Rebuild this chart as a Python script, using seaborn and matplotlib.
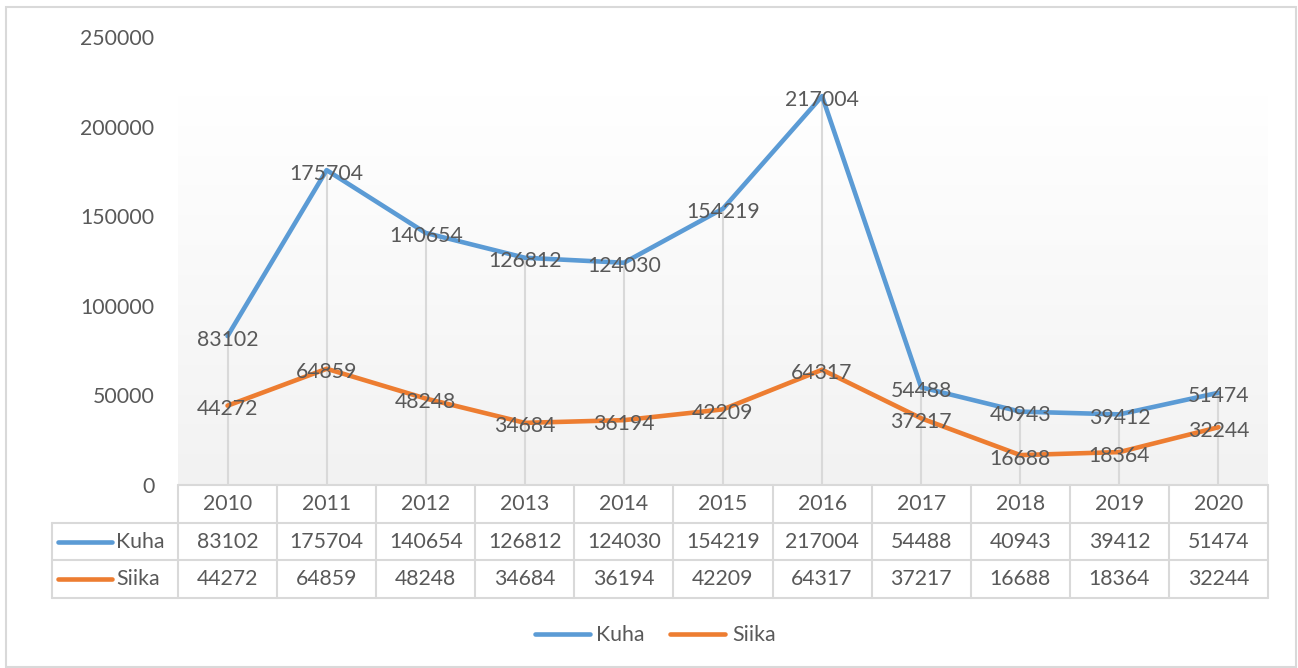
import numpy as np
import pandas as pd
import matplotlib
matplotlib.use("Agg")
import matplotlib.pyplot as plt
from matplotlib.lines import Line2D
from matplotlib.patches import Rectangle
import matplotlib.transforms as mtransforms
import seaborn as sns

years = ["2010", "2011", "2012", "2013", "2014", "2015", "2016", "2017", "2018", "2019", "2020"]
kuha = [83102, 175704, 140654, 126812, 124030, 154219, 217004, 54488, 40943, 39412, 51474]
siika = [44272, 64859, 48248, 34684, 36194, 42209, 64317, 37217, 16688, 18364, 32244]
series_names = ["Kuha", "Siika"]
y_ticks = [0, 50000, 100000, 150000, 200000, 250000]

colors = {"Kuha": "#5B9BD5", "Siika": "#ED7D31"}
txt = "#595959"
grid = "#D9D9D9"

sns.set_style("white")
plt.rcParams["font.family"] = ["Lato", "DejaVu Sans"]
FS = 15.3

W, H = 1298, 668
fig = plt.figure(figsize=(W / 100, H / 100), dpi=100)
fig.patch.set_facecolor("white")

# outer border
fig.add_artist(Rectangle((6 / W, 1 - 667 / H), 1290 / W, 660 / H, transform=fig.transFigure,
                         fill=False, edgecolor=grid, lw=1.5))

# main axes
px_left, px_right, px_top, px_bot = 178, 1268, 37, 485
ax = fig.add_axes([px_left / W, 1 - px_bot / H, (px_right - px_left) / W, (px_bot - px_top) / H])
n = len(years)
x = np.arange(n)
ax.set_xlim(-0.5, n - 0.5)
ax.set_ylim(0, 250000)

# gradient plot-area fill (starts at pixel row ~95)
grad_top = (px_bot - 95) / (px_bot - px_top) * 250000
grad = np.linspace(0, 1, 256).reshape(-1, 1)
ax.imshow(grad, extent=(-0.5, n - 0.5, 0, grad_top), aspect="auto",
          cmap=matplotlib.colors.LinearSegmentedColormap.from_list("g", ["#F2F2F2", "#FFFFFF"]),
          origin="lower", zorder=0)

# drop lines
ax.vlines(x, 0, np.maximum(kuha, siika), color=grid, lw=1.5, zorder=1)

df = pd.DataFrame({
    "x": np.concatenate([x, x]),
    "value": kuha + siika,
    "series": ["Kuha"] * n + ["Siika"] * n,
})
sns.lineplot(data=df, x="x", y="value", hue="series", palette=colors, lw=3.3,
             ax=ax, legend=False, zorder=3)
for ln in ax.lines:
    ln.set_solid_capstyle("round")
    ln.set_solid_joinstyle("round")

lab_tr = ax.transData + mtransforms.ScaledTranslation(0, -2.5 / 72, fig.dpi_scale_trans)
for vals in (kuha, siika):
    for xi, v in zip(x, vals):
        ax.text(xi, v, str(v), ha="center", va="center", fontsize=FS, color=txt, zorder=5,
                transform=lab_tr)

ax.set_yticks(y_ticks)
ax.set_yticklabels([str(t) for t in y_ticks], fontsize=FS, color=txt)
ax.tick_params(axis="y", length=0, pad=17)
ax.set_xticks([])
ax.set_xlabel("")
ax.set_ylabel("")
for s in ax.spines.values():
    s.set_visible(False)
ax.patch.set_alpha(0)

# data table
t_left, t_right, t_top, t_bot = 52, 1268, 485, 598
tab = fig.add_axes([t_left / W, 1 - t_bot / H, (t_right - t_left) / W, (t_bot - t_top) / H])
step = (px_right - px_left) / n
xl = -0.5 - (px_left - t_left) / step
tab.set_xlim(xl, n - 0.5)
tab.set_ylim(0, 3)
tab.axis("off")
lw = 1.5
tab.plot([-0.5, n - 0.5], [3, 3], color=grid, lw=lw, clip_on=False)
for yy in [0, 1, 2]:
    tab.plot([xl, n - 0.5], [yy, yy], color=grid, lw=lw, clip_on=False)
tab.plot([xl, xl], [0, 2], color=grid, lw=lw, clip_on=False)
for k in range(n + 1):
    tab.plot([k - 0.5, k - 0.5], [0, 3], color=grid, lw=lw, clip_on=False)
for xi, yr in zip(x, years):
    tab.text(xi, 2.5, yr, ha="center", va="center", fontsize=FS, color=txt)
for row_y, name, vals in [(1.5, "Kuha", kuha), (0.5, "Siika", siika)]:
    k0 = -0.5 - (px_left - 58) / step
    k1 = -0.5 - (px_left - 112) / step
    tab.plot([k0, k1], [row_y, row_y], color=colors[name], lw=3.3, solid_capstyle="round")
    tab.text(-0.5 - (px_left - 116) / step, row_y, name, ha="left", va="center", fontsize=FS, color=txt)
    for xi, v in zip(x, vals):
        tab.text(xi, row_y, str(v), ha="center", va="center", fontsize=FS, color=txt)

# legend
handles = [Line2D([0], [0], color=colors[s], lw=3.3, solid_capstyle="round") for s in series_names]
leg = fig.legend(handles, series_names, loc="center", bbox_to_anchor=(655 / W, 1 - 635 / H),
                 ncol=2, frameon=False, fontsize=FS, handlelength=2.6, handletextpad=0.3,
                 columnspacing=1.2)
for t in leg.get_texts():
    t.set_color(txt)

fig.savefig("out.png", dpi=100)
